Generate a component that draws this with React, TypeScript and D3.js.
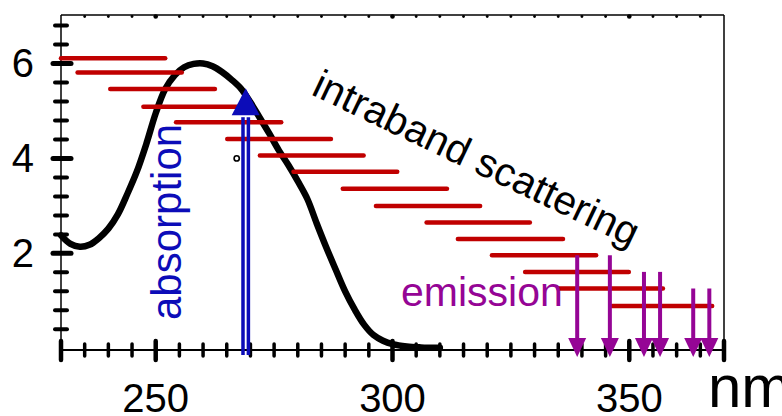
import { useEffect, useRef } from 'react';
import * as d3 from 'd3';

// absorption spectrum (black curve)
const absWl = [230, 232, 234, 236, 238, 240, 242, 244, 246, 248, 250, 252, 254, 256, 258, 260, 262, 264, 266, 268, 270, 272, 274, 276, 278, 280, 282, 284, 286, 288, 290, 292, 294, 296, 298, 300, 303, 306, 310];
const absVal = [2.38, 2.2, 2.14, 2.18, 2.32, 2.52, 2.82, 3.25, 3.72, 4.3, 4.95, 5.46, 5.75, 5.92, 5.99, 6.0, 5.94, 5.82, 5.66, 5.47, 5.18, 4.85, 4.52, 4.17, 3.86, 3.52, 3.15, 2.63, 2.13, 1.66, 1.2, 0.82, 0.5, 0.28, 0.16, 0.09, 0.04, 0.02, 0.01];

// energy levels (red bars)
const barStart = [230, 233.5, 240.4, 247.4, 254.3, 265.1, 272.0, 279.1, 289.5, 296.5, 307.2, 313.8, 321.0, 328.0, 335.0, 346.4];
const barEnd = [252.0, 255.5, 262.5, 269.5, 276.5, 287.0, 293.9, 301.0, 311.5, 318.5, 329.0, 336.0, 343.0, 349.9, 357.1, 367.5];
const barLevel = [6.11, 5.81, 5.46, 5.09, 4.76, 4.41, 4.06, 3.72, 3.36, 3.0, 2.65, 2.3, 1.96, 1.61, 1.26, 0.89];

// absorption arrow
const absArrowWl = 269.0;
const absArrowTop = 5.48;
const absArrowHeadBase = 4.91;

// emission arrows
const emWl = [339.0, 345.9, 353.1, 356.5, 363.5, 366.9];
const emTop = [1.96, 1.96, 1.61, 1.61, 1.26, 1.26];

const xTickMajor = [250, 300, 350];
const yTickMajor = [2, 4, 6];

const RED = '#c00000';
const BLUE = '#0c0cb8';
const PURPLE = '#950595';
const FONT = '"Liberation Sans", Arial, sans-serif';

const App = () => {
  const ref = useRef<SVGSVGElement>(null);

  useEffect(() => {
    if (!ref.current) return;
    const svg = d3.select(ref.current);
    svg.selectAll('*').remove();

    const x = d3.scaleLinear().domain([230, 370]).range([61, 724]);
    const y = d3.scaleLinear().domain([-0.035, 7.02]).range([350, 15]);

    // frame
    svg.append('line').attr('x1', x(230)).attr('x2', x(370)).attr('y1', y(7.02)).attr('y2', y(7.02)).attr('stroke', '#000').attr('stroke-width', 1.5);
    svg.append('line').attr('x1', x(370)).attr('x2', x(370)).attr('y1', y(7.02)).attr('y2', y(-0.035)).attr('stroke', '#000').attr('stroke-width', 1.5);
    svg.append('line').attr('x1', x(230)).attr('x2', x(230)).attr('y1', y(7.02)).attr('y2', y(-0.035)).attr('stroke', '#000').attr('stroke-width', 1.5);
    svg.append('line').attr('x1', x(230)).attr('x2', x(370)).attr('y1', y(-0.035)).attr('y2', y(-0.035)).attr('stroke', '#000').attr('stroke-width', 2);

    // x ticks (every 5 nm)
    const xTicks = d3.range(230, 371, 5);
    const yb = y(-0.035);
    xTicks.forEach(t => {
      const major = xTickMajor.includes(t) || t === 230 || t === 370;
      svg.append('line')
        .attr('x1', x(t)).attr('x2', x(t))
        .attr('y1', major ? yb - 9 : yb - 6).attr('y2', major ? yb + 10 : yb + 6)
        .attr('stroke', '#000').attr('stroke-width', major ? 4.5 : 3.5).attr('stroke-linecap', 'round');
      if (t > 230 && t < 370) {
        svg.append('circle').attr('cx', x(t)).attr('cy', y(7.02) + 1.5)
          .attr('r', xTickMajor.includes(t) ? 2.3 : 1.4).attr('fill', '#000');
      }
    });

    // y ticks (every 0.4)
    d3.range(1, 18).map(k => +(k * 0.4).toFixed(1)).forEach(t => {
      const major = yTickMajor.includes(t);
      svg.append('line')
        .attr('x1', major ? x(230) - 8 : x(230) - 6).attr('x2', major ? x(230) + 10 : x(230) + 6)
        .attr('y1', y(t)).attr('y2', y(t))
        .attr('stroke', '#000').attr('stroke-width', major ? 5 : 4).attr('stroke-linecap', 'round');
    });

    // tick labels
    yTickMajor.forEach(t => {
      svg.append('text').attr('x', 34).attr('y', y(t) + 14)
        .attr('text-anchor', 'end').style('font-family', FONT).style('font-size', '40px').text(t);
    });
    xTickMajor.forEach(t => {
      svg.append('text').attr('x', x(t)).attr('y', 412)
        .attr('text-anchor', 'middle').style('font-family', FONT).style('font-size', '40px').text(t);
    });
    svg.append('text').attr('x', 708).attr('y', 407)
      .style('font-family', FONT).style('font-size', '60px').text('nm');

    // absorption curve
    const line = d3.line<number>()
      .x((_, i) => x(absWl[i]))
      .y(d => y(d))
      .curve(d3.curveCatmullRom);
    svg.append('path').datum(absVal).attr('fill', 'none').attr('stroke', '#000')
      .attr('stroke-width', 6.5).attr('stroke-linecap', 'round').attr('d', line);

    // small ring marker
    svg.append('circle').attr('cx', x(267.1)).attr('cy', y(4.0)).attr('r', 2.6)
      .attr('fill', 'none').attr('stroke', '#000').attr('stroke-width', 1.6);

    // red levels
    barLevel.forEach((v, i) => {
      svg.append('line')
        .attr('x1', x(barStart[i])).attr('x2', x(barEnd[i]))
        .attr('y1', y(v)).attr('y2', y(v))
        .attr('stroke', RED).attr('stroke-width', 4.5).attr('stroke-linecap', 'round');
    });

    // absorption arrow (double line)
    const ax = x(absArrowWl);
    [-2.7, 2.7].forEach(dx => {
      svg.append('line').attr('x1', ax + dx).attr('x2', ax + dx)
        .attr('y1', yb + 5).attr('y2', y(absArrowHeadBase) + 2)
        .attr('stroke', BLUE).attr('stroke-width', 3.5);
    });
    svg.append('path')
      .attr('d', `M${ax - 14},${y(absArrowHeadBase)} L${ax},${y(absArrowTop)} L${ax + 14},${y(absArrowHeadBase)} Z`)
      .attr('fill', BLUE);

    // emission arrows
    emWl.forEach((w, i) => {
      const ex = x(w);
      svg.append('line').attr('x1', ex).attr('x2', ex)
        .attr('y1', y(emTop[i])).attr('y2', yb - 10)
        .attr('stroke', PURPLE).attr('stroke-width', 4);
      svg.append('path')
        .attr('d', `M${ex - 9},${yb - 12} L${ex + 9},${yb - 12} L${ex},${yb + 7} Z`)
        .attr('fill', PURPLE);
    });

    // annotations
    svg.append('text')
      .attr('transform', `translate(181,320) rotate(-90)`)
      .style('font-family', FONT).style('font-size', '42px').attr('fill', BLUE)
      .text('absorption');
    svg.append('text').attr('x', 401).attr('y', 306)
      .style('font-family', FONT).style('font-size', '41px').attr('fill', PURPLE)
      .text('emission');
    svg.append('text')
      .attr('transform', `translate(310,94) rotate(25.5)`)
      .style('font-family', FONT).style('font-size', '40.5px').attr('fill', '#000')
      .text('intraband scattering');
  }, []);

  return (
    <div style={{ position: 'absolute', left: 0, top: 0, width: 782, height: 416, background: 'white' }}>
      <svg ref={ref} width={782} height={416} style={{ display: 'block' }} />
    </div>
  );
};

export default App;
